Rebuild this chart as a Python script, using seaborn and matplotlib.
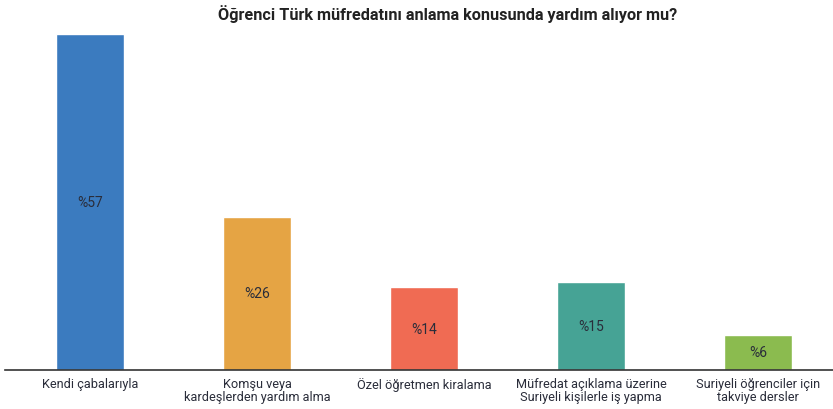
import matplotlib
matplotlib.use("Agg")
import matplotlib.pyplot as plt
import seaborn as sns
import pandas as pd

categories = ["Kendi çabalarıyla",
              "Komşu veya\nkardeşlerden yardım alma",
              "Özel öğretmen kiralama",
              "Müfredat açıklama üzerine\nSuriyeli kişilerle iş yapma",
              "Suriyeli öğrenciler için\ntakviye dersler"]
values = [57, 26, 14, 15, 6]
labels = ["%57", "%26", "%14", "%15", "%6"]
colors = ["#3b7bbf", "#e5a444", "#f06b53", "#46a395", "#8bbb4f"]

sns.set_theme(style="white")
plt.rcParams['font.family'] = ['Roboto', 'DejaVu Sans']

df = pd.DataFrame({"cat": categories, "val": values})

fig = plt.figure(figsize=(8.33, 4.10), dpi=100)
ax = fig.add_axes([5/833, 0.0951, 1 - 5/833, 0.9146 - 0.0951])
sns.barplot(data=df, x="cat", y="val", hue="cat", palette=colors, legend=False,
            width=0.41, ax=ax, saturation=1)
ax.set_xlim(-0.51, 4.45)
ax.set_ylim(0, 57)
for i, (v, l) in enumerate(zip(values, labels)):
    ax.text(i, v / 2, l, ha="center", va="center", fontsize=10, color="#2a2d3a")
for s in ["top", "right", "left"]:
    ax.spines[s].set_visible(False)
ax.spines["bottom"].set_color("#333333")
ax.spines["bottom"].set_linewidth(1.2)
ax.set_yticks([])
ax.set_xlabel("")
ax.set_ylabel("")
ax.tick_params(axis="x", length=0, labelsize=9.2, labelcolor="#2a2d3a", pad=5)
ax.set_xticks(range(len(categories)))
ax.set_xticklabels(categories, linespacing=1.05)
ax.set_xticks([-0.5], minor=True)
ax.tick_params(axis="x", which="minor", length=4, width=1, color="#333333", direction="out")
fig.text(0.537, 0.966, "Öğrenci Türk müfredatını anlama konusunda yardım alıyor mu?",
         ha="center", va="center", fontsize=11.7, fontweight="bold", color="#222222")
fig.savefig("out.png", dpi=100)
